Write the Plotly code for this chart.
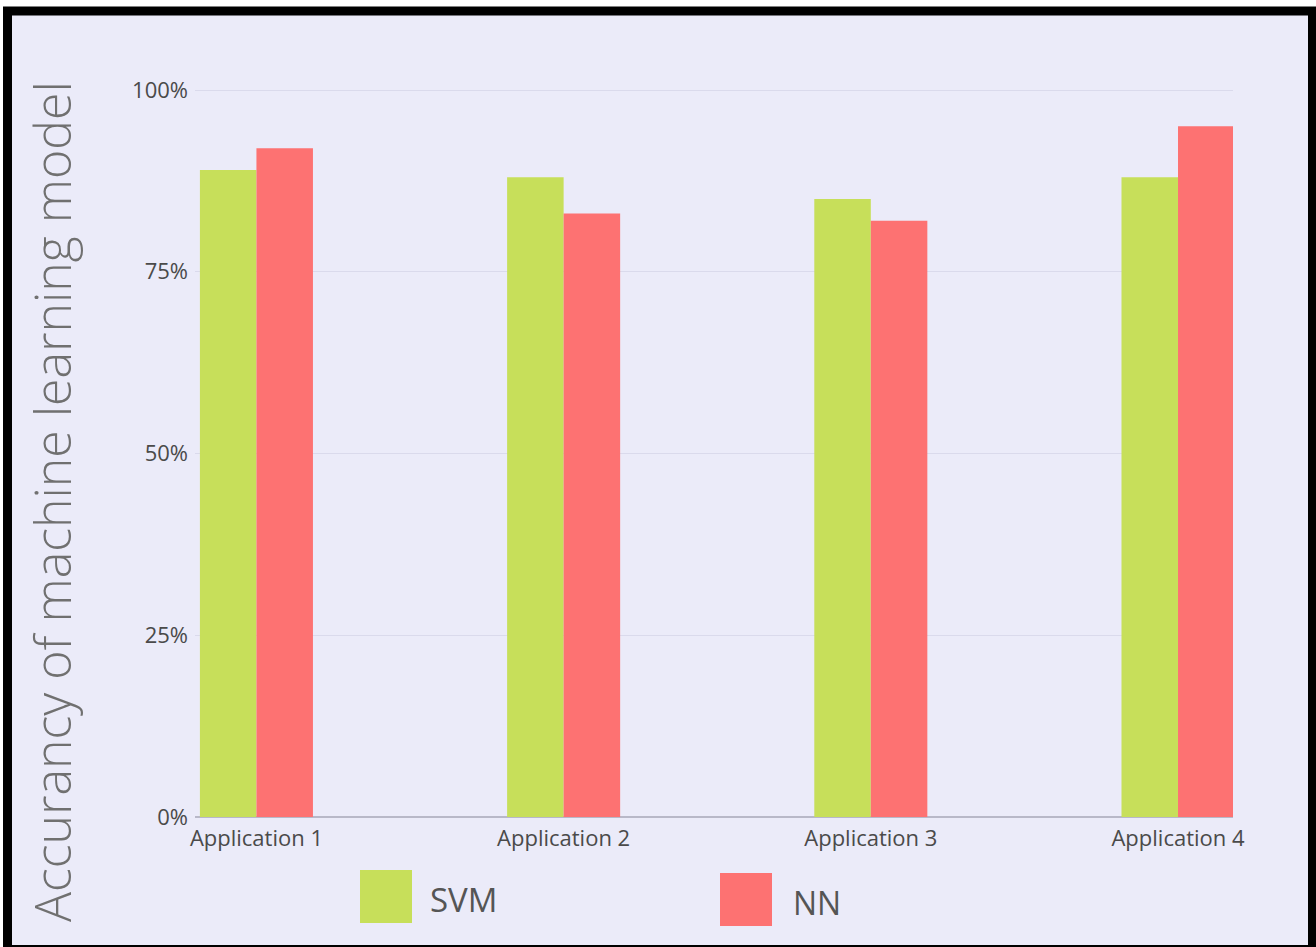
import plotly.graph_objects as go

# ---- data ----
categories = ["Application 1", "Application 2", "Application 3", "Application 4"]
svm_values = [0.89, 0.88, 0.85, 0.88]
nn_values = [0.92, 0.83, 0.82, 0.95]
series_names = ["SVM", "NN"]
y_tick_values = [0, 0.25, 0.5, 0.75, 1.0]
y_tick_labels = ["0%", "25%", "50%", "75%", "100%"]
y_title = "Accurancy of machine learning model"

# ---- styling ----
W, H = 1316, 947
Y_TOP = 1.0055
ML, MR, MT, MB = 195, 83, 86, 130
BG = "#ebebf9"
GREEN = "#c7df5a"
RED = "#fd7272"
FONT = "Open Sans"

PW = W - ML - MR
PH = H - MT - MB


def px_x(px):
    return (px - ML) / PW


def px_y(py):
    return (H - MB - py) / PH


fig = go.Figure()
fig.add_trace(go.Bar(x=categories, y=svm_values, name=series_names[0],
                     marker=dict(color=GREEN, line=dict(width=0))))
fig.add_trace(go.Bar(x=categories, y=nn_values, name=series_names[1],
                     marker=dict(color=RED, line=dict(width=0))))

shapes = [
    # outer black frame
    dict(type="rect", xref="paper", yref="paper", layer="below",
         x0=px_x(7.5), x1=px_x(1312.5), y0=px_y(949.5), y1=px_y(11),
         line=dict(color="black", width=9), fillcolor=BG),
    # legend swatches
    dict(type="rect", xref="paper", yref="paper",
         x0=px_x(360), x1=px_x(412), y0=px_y(923), y1=px_y(870),
         line=dict(width=0), fillcolor=GREEN),
    dict(type="rect", xref="paper", yref="paper",
         x0=px_x(720), x1=px_x(772), y0=px_y(926), y1=px_y(873),
         line=dict(width=0), fillcolor=RED),
]

annotations = [
    dict(text=y_title, xref="paper", yref="paper", x=px_x(52), y=px_y(502),
         xanchor="center", yanchor="middle", textangle=-90, showarrow=False,
         font=dict(family=FONT, size=50, color="#707070", weight=300)),
    dict(text=series_names[0], xref="paper", yref="paper", x=px_x(428), y=px_y(899),
         xanchor="left", yanchor="middle", showarrow=False,
         font=dict(family=FONT, size=33, color="#555555")),
    dict(text=series_names[1], xref="paper", yref="paper", x=px_x(791), y=px_y(902),
         xanchor="left", yanchor="middle", showarrow=False,
         font=dict(family=FONT, size=32, color="#555555")),
]

fig.update_layout(
    width=W, height=H,
    margin=dict(l=ML, r=MR, t=MT, b=MB, pad=0),
    paper_bgcolor="white",
    plot_bgcolor=BG,
    barmode="group",
    bargap=0.632,
    bargroupgap=0,
    showlegend=False,
    shapes=shapes,
    annotations=annotations,
    font=dict(family=FONT, color="#4a4a4a"),
    xaxis=dict(range=[-0.2, 3.179], showgrid=False, zeroline=False, showline=False,
               ticks="", tickfont=dict(size=22, color="#4a4a4a"),
               ticklabelstandoff=6),
    yaxis=dict(range=[0, Y_TOP], tickvals=y_tick_values, ticktext=y_tick_labels,
               showgrid=True, gridcolor="#dadaec", gridwidth=1,
               zeroline=True, zerolinecolor="#b8b8c8", zerolinewidth=1.5,
               showline=False, ticks="", tickfont=dict(size=22, color="#4a4a4a"),
               ticklabelstandoff=6),
)

fig.write_html("out.html")
